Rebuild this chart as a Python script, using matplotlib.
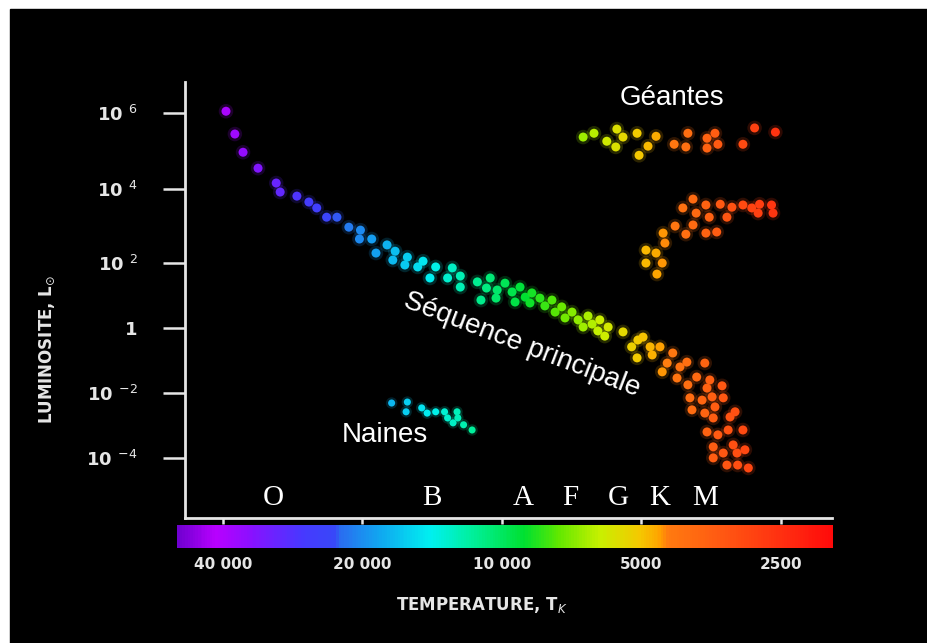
import numpy as np
import matplotlib.pyplot as plt
from matplotlib.colors import LinearSegmentedColormap, Normalize
from matplotlib.patches import Rectangle

# Stars: surface temperature (K) and log10 of luminosity (solar units)
ms_temp = [39400, 37700, 36200, 33600, 30700, 30100, 27700, 26100, 25100, 23900,
           22700, 21400, 20200, 20300, 19100, 18700, 17700, 17000, 17200, 16000,
           16200, 15200, 14800, 14300, 13900, 13100, 12800, 12300, 12300, 11300,
           10800, 11100, 10240, 10300, 10600,
           9850, 9510, 9140, 8910, 8620, 8700, 8280, 8080, 7800, 7680,
           7430, 7310, 7060, 6850, 6680, 6520, 6390, 6210, 6150, 6000, 9370,
           5900, 5480, 5250, 5090, 4960, 4790, 4740, 5110, 4560, 4510,
           4280, 4400, 4130, 3990, 3650, 4190, 3970, 3800, 3560, 3350,
           3610, 3930, 3700, 3520, 3330, 3470, 3890, 3650, 3500, 3220,
           3140, 3610, 3420, 3250, 3020, 3500, 3330, 3170, 3110, 2990,
           3500, 3270, 3100, 2940]
ms_logl = [6.05, 5.45, 4.97, 4.55, 4.16, 3.92, 3.81, 3.65, 3.49, 3.24,
           3.24, 2.97, 2.89, 2.65, 2.65, 2.27, 2.49, 2.32, 2.08, 2.16,
           1.94, 1.88, 2.05, 1.54, 1.88, 1.54, 1.85, 1.60, 1.26, 1.42,
           1.23, 0.86, 1.17, 0.92, 1.54,
           1.38, 1.11, 1.26, 0.95, 1.08, 0.77, 0.92, 0.68, 0.86, 0.49,
           0.65, 0.31, 0.49, 0.25, 0.03, 0.37, 0.12, -0.09, 0.25, -0.25, 0.80,
           0.03, -0.12, -0.58, -0.37, -0.28, -0.58, -0.83, -0.92, -0.58, -1.35,
           -0.77, -1.08, -1.20, -1.05, -1.08, -1.54, -1.75, -1.51, -1.60, -1.78,
           -1.85, -2.15, -2.22, -2.12, -2.15, -2.43, -2.52, -2.62, -2.77, -2.74,
           -2.58, -3.20, -3.29, -3.14, -3.14, -3.66, -3.85, -3.60, -3.85, -3.75,
           -4.00, -4.22, -4.22, -4.31]

sg_temp = [6680, 6330, 5940, 5680, 5650, 5480, 5110, 5060, 4840, 4650,
           4250, 4010, 3970, 3610, 3610, 3470, 3420, 3020, 2850, 2570]
sg_logl = [5.37, 5.47, 5.26, 5.11, 5.58, 5.37, 5.47, 4.89, 5.13, 5.39,
           5.18, 5.11, 5.47, 5.34, 5.08, 5.47, 5.18, 5.18, 5.61, 5.50]

gi_temp = [3870, 4070, 3630, 3810, 3380, 3190, 3020, 2890, 2780, 2800,
           2620, 2600, 3570, 3270, 4230, 3870, 3630, 3440, 4010, 4490,
           4450, 4890, 4650, 4510, 4890, 4630]
gi_logl = [3.73, 3.49, 3.57, 3.35, 3.59, 3.51, 3.57, 3.49, 3.59, 3.35,
           3.57, 3.35, 3.24, 3.24, 3.00, 3.03, 2.81, 2.84, 2.78, 2.81,
           2.54, 2.35, 2.27, 2.00, 2.00, 1.66]

wd_temp = [17300, 16000, 16100, 14900, 14500, 13900, 13300, 13100, 12500, 12450,
           12750, 12100, 11600]
wd_logl = [-2.31, -2.28, -2.58, -2.46, -2.62, -2.58, -2.58, -2.77, -2.58, -2.77,
           -2.92, -2.98, -3.14]

class_names = ['O', 'B', 'A', 'F', 'G', 'K', 'M']
class_temp = [31200, 14200, 9000, 7130, 5620, 4560, 3650]

temp_ticks = [40000, 20000, 10000, 5000, 2500]
temp_labels = ['40 000', '20 000', '10 000', '5000', '2500']
lum_ticks = [6, 4, 2, 0, -2, -4]
lum_labels = ['10 $^{6}$', '10 $^{4}$', '10 $^{2}$', '1', '10 $^{-2}$', '10 $^{-4}$']

# luminosity decades are not evenly spaced on this diagram
y_knots = [-8, -4, -2, 0, 2, 4, 6, 10]
y_pos = [-130, 0, 65, 130, 195, 269, 345, 497]


def fwd(v):
    return np.interp(v, y_knots, y_pos)


def inv(p):
    return np.interp(p, y_pos, y_knots)


# rainbow running from cool (red) to hot (violet)
stops = [(0.0, '#ff0a0a'), (0.066, '#ff2a10'), (0.172, '#ff5a12'),
         (0.25, '#ff7a10'), (0.262, '#ffa000'), (0.294, '#f5c800'),
         (0.355, '#c8f000'), (0.418, '#60e800'), (0.47, '#00e030'),
         (0.553, '#00f0a0'), (0.614, '#00f0f0'), (0.69, '#10a8f0'),
         (0.753, '#2a6cf0'), (0.76, '#3848f8'), (0.8125, '#4838ff'),
         (0.889, '#8a10ff'), (0.942, '#b800ff'), (1.0, '#7000d0')]
spectrum = LinearSegmentedColormap.from_list('spectrum', stops)
norm = Normalize(np.log10(1930), np.log10(50300))

fg = '#e6e6e6'
W, H = 928, 643
fig = plt.figure(figsize=(W / 100, H / 100), dpi=100, facecolor='white')
fig.add_artist(Rectangle((10 / W, 0), 1, 1 - 9 / H, transform=fig.transFigure,
                         color='black', zorder=-10))

ax = fig.add_axes([185 / W, 1 - 518 / H, 647 / W, 436 / H])
ax.set_facecolor('none')
ax.set_xscale('log')
ax.set_yscale('function', functions=(fwd, inv))
ax.set_xlim(48300, 1940)
ax.set_ylim(-5.85, 6.82)

groups = [(ms_temp, ms_logl, 42), (sg_temp, sg_logl, 42),
          (gi_temp, gi_logl, 42), (wd_temp, wd_logl, 26)]
for temp, logl, size in groups:
    temp = np.array(temp)
    c = np.log10(temp)
    ax.scatter(temp, logl, s=size * 2.6, c=c, cmap=spectrum, norm=norm,
               alpha=0.18, linewidths=0, zorder=2)
    ax.scatter(temp, logl, s=size, c=c, cmap=spectrum, norm=norm,
               linewidths=0, zorder=3)

ax.set_xticks(temp_ticks, temp_labels)
ax.set_yticks(lum_ticks, lum_labels)
ax.minorticks_off()
ax.tick_params(axis='y', length=16, width=1.8, color=fg, labelcolor=fg,
               pad=18, labelsize=13)
ax.tick_params(axis='x', length=4, width=1.8, color=fg, labelcolor=fg,
               pad=24, labelsize=11)
plt.setp(ax.get_xticklabels() + ax.get_yticklabels(), fontweight='bold')
ax.spines[['top', 'right']].set_visible(False)
for side in ['left', 'bottom']:
    ax.spines[side].set_color(fg)
    ax.spines[side].set_linewidth(2)

# spectral classes along the bottom of the plot
for name, t in zip(class_names, class_temp):
    ax.text(t, 0.046, name, transform=ax.get_xaxis_transform(), ha='center',
            va='center', fontsize=21, family='Liberation Serif', color='white')

lbl = dict(color='white', fontsize=20, family='Liberation Sans')
ax.text(4300, 6.39, 'Géantes', ha='center', va='center', **lbl)
ax.text(17900, -3.29, 'Naines', ha='center', va='center', **lbl)
ax.text(9050, -0.52, 'Séquence principale', ha='center', va='center',
        rotation=-21, rotation_mode='anchor', **lbl)

# temperature colour strip under the axis
cax = fig.add_axes([177 / W, 1 - 548 / H, 656 / W, 23 / H])
edges = np.logspace(np.log10(1930), np.log10(50300), 500)
mids = np.log10(np.sqrt(edges[:-1] * edges[1:]))
cax.pcolormesh(edges, [0, 1], mids[None, :], cmap=spectrum, norm=norm,
               shading='flat')
cax.set_xscale('log')
cax.set_xlim(50300, 1930)
cax.axis('off')

fig.text(47 / W, 1 - 349 / H, 'LUMINOSITE, L$_{\\odot}$', rotation=90,
         ha='center', va='center', color=fg, fontsize=12, fontweight='bold')
fig.text(482 / W, 1 - 605 / H, 'TEMPERATURE, T$_{K}$', ha='center',
         va='center', color=fg, fontsize=12, fontweight='bold')

fig.savefig('out.png', dpi=100, facecolor=fig.get_facecolor())
